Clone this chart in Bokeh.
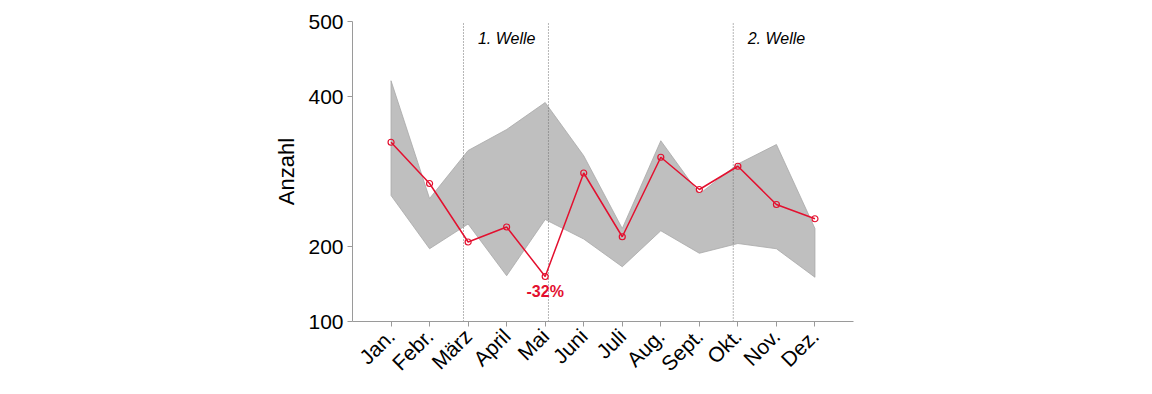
import numpy as np
from bokeh.plotting import figure
from bokeh.models import Range1d, FixedTicker, ColumnDataSource
from bokeh.core.properties import value
from bokeh.embed import file_html
from bokeh.resources import INLINE

months = ["Jan.", "Febr.", "März", "April", "Mai", "Juni", "Juli", "Aug.",
          "Sept.", "Okt.", "Nov.", "Dez."]
values_2020 = [339, 284, 206, 226, 160, 298, 213, 319, 276, 307, 256, 237]
band_upper = [421, 264, 328, 356, 392, 321, 224, 341, 270, 310, 336, 224]
band_lower = [268, 197, 230, 161, 236, 210, 173, 221, 191, 204, 197, 159]
y_ticks = [100, 200, 400, 500]
wave_marks = [1.88, 4.085, 8.88]
wave_labels = ["1. Welle", "2. Welle"]
wave_label_x = [3, 10]
annotation_text = ["-32%"]

FONT = "Liberation Sans"
RED = "#e3102f"

x = np.arange(len(months))

p = figure(output_backend="svg", toolbar_location=None,
           frame_width=501, frame_height=300,
           min_border_left=352, min_border_right=291,
           min_border_top=21, min_border_bottom=65,
           x_range=Range1d(-1, 12), y_range=Range1d(100, 500),
           background_fill_color="white", border_fill_color="white")
p.outline_line_color = None
p.xgrid.visible = False
p.ygrid.visible = False

# band
px = np.concatenate([x, x[::-1]])
py = np.concatenate([band_upper, band_lower[::-1]])
p.patch(px, py, fill_color="#bfbfbf", line_color="#a8a8a8", line_width=0.8)

# wave marks
for xm in wave_marks:
    p.segment(x0=xm, y0=100, x1=xm, y1=498, line_color="#6e6e6e",
              line_width=1, line_dash="1 2")

# wave labels
p.text(x=wave_label_x, y=[478, 478], text=wave_labels,
       text_font=value(FONT), text_font_size="16px", text_font_style="italic",
       text_align="center", text_baseline="alphabetic", text_color="black")

# red series
src = ColumnDataSource(dict(x=x, y=values_2020))
p.line("x", "y", source=src, line_color=RED, line_width=1.5)
p.scatter("x", "y", source=src, marker="circle", size=6, line_color=RED,
          fill_color=None, line_width=1.2)

# annotation at minimum
imin = int(np.argmin(values_2020))
p.text(x=[x[imin]], y=[values_2020[imin]], text=annotation_text,
       text_font=value(FONT), text_font_size="16px", text_font_style="bold",
       text_align="center", text_baseline="middle", text_color=RED,
       y_offset=15)

# axes
for ax in (p.xaxis[0], p.yaxis[0]):
    ax.axis_line_color = "#9a9a9a"
    ax.major_tick_line_color = "#9a9a9a"
    ax.major_tick_out = 5
    ax.major_tick_in = 0
    ax.minor_tick_line_color = None
    ax.major_label_text_font = FONT
    ax.major_label_text_color = "black"

p.yaxis.ticker = FixedTicker(ticks=y_ticks)
p.yaxis.major_label_text_font_size = "21px"
p.yaxis.axis_label = "Anzahl"
p.yaxis.axis_label_text_font = FONT
p.yaxis.axis_label_text_font_size = "22px"
p.yaxis.axis_label_text_font_style = "normal"
p.yaxis.axis_label_text_color = "black"
p.yaxis.axis_label_standoff = 6
p.yaxis.major_label_standoff = 4

p.xaxis.ticker = FixedTicker(ticks=list(x))
p.xaxis.major_label_overrides = {int(i): m for i, m in zip(x, months)}
p.xaxis.major_label_orientation = np.pi / 4
p.xaxis.major_label_text_font_size = "21px"
p.xaxis.major_label_standoff = 6

open("out.html", "w").write(file_html(p, INLINE))
